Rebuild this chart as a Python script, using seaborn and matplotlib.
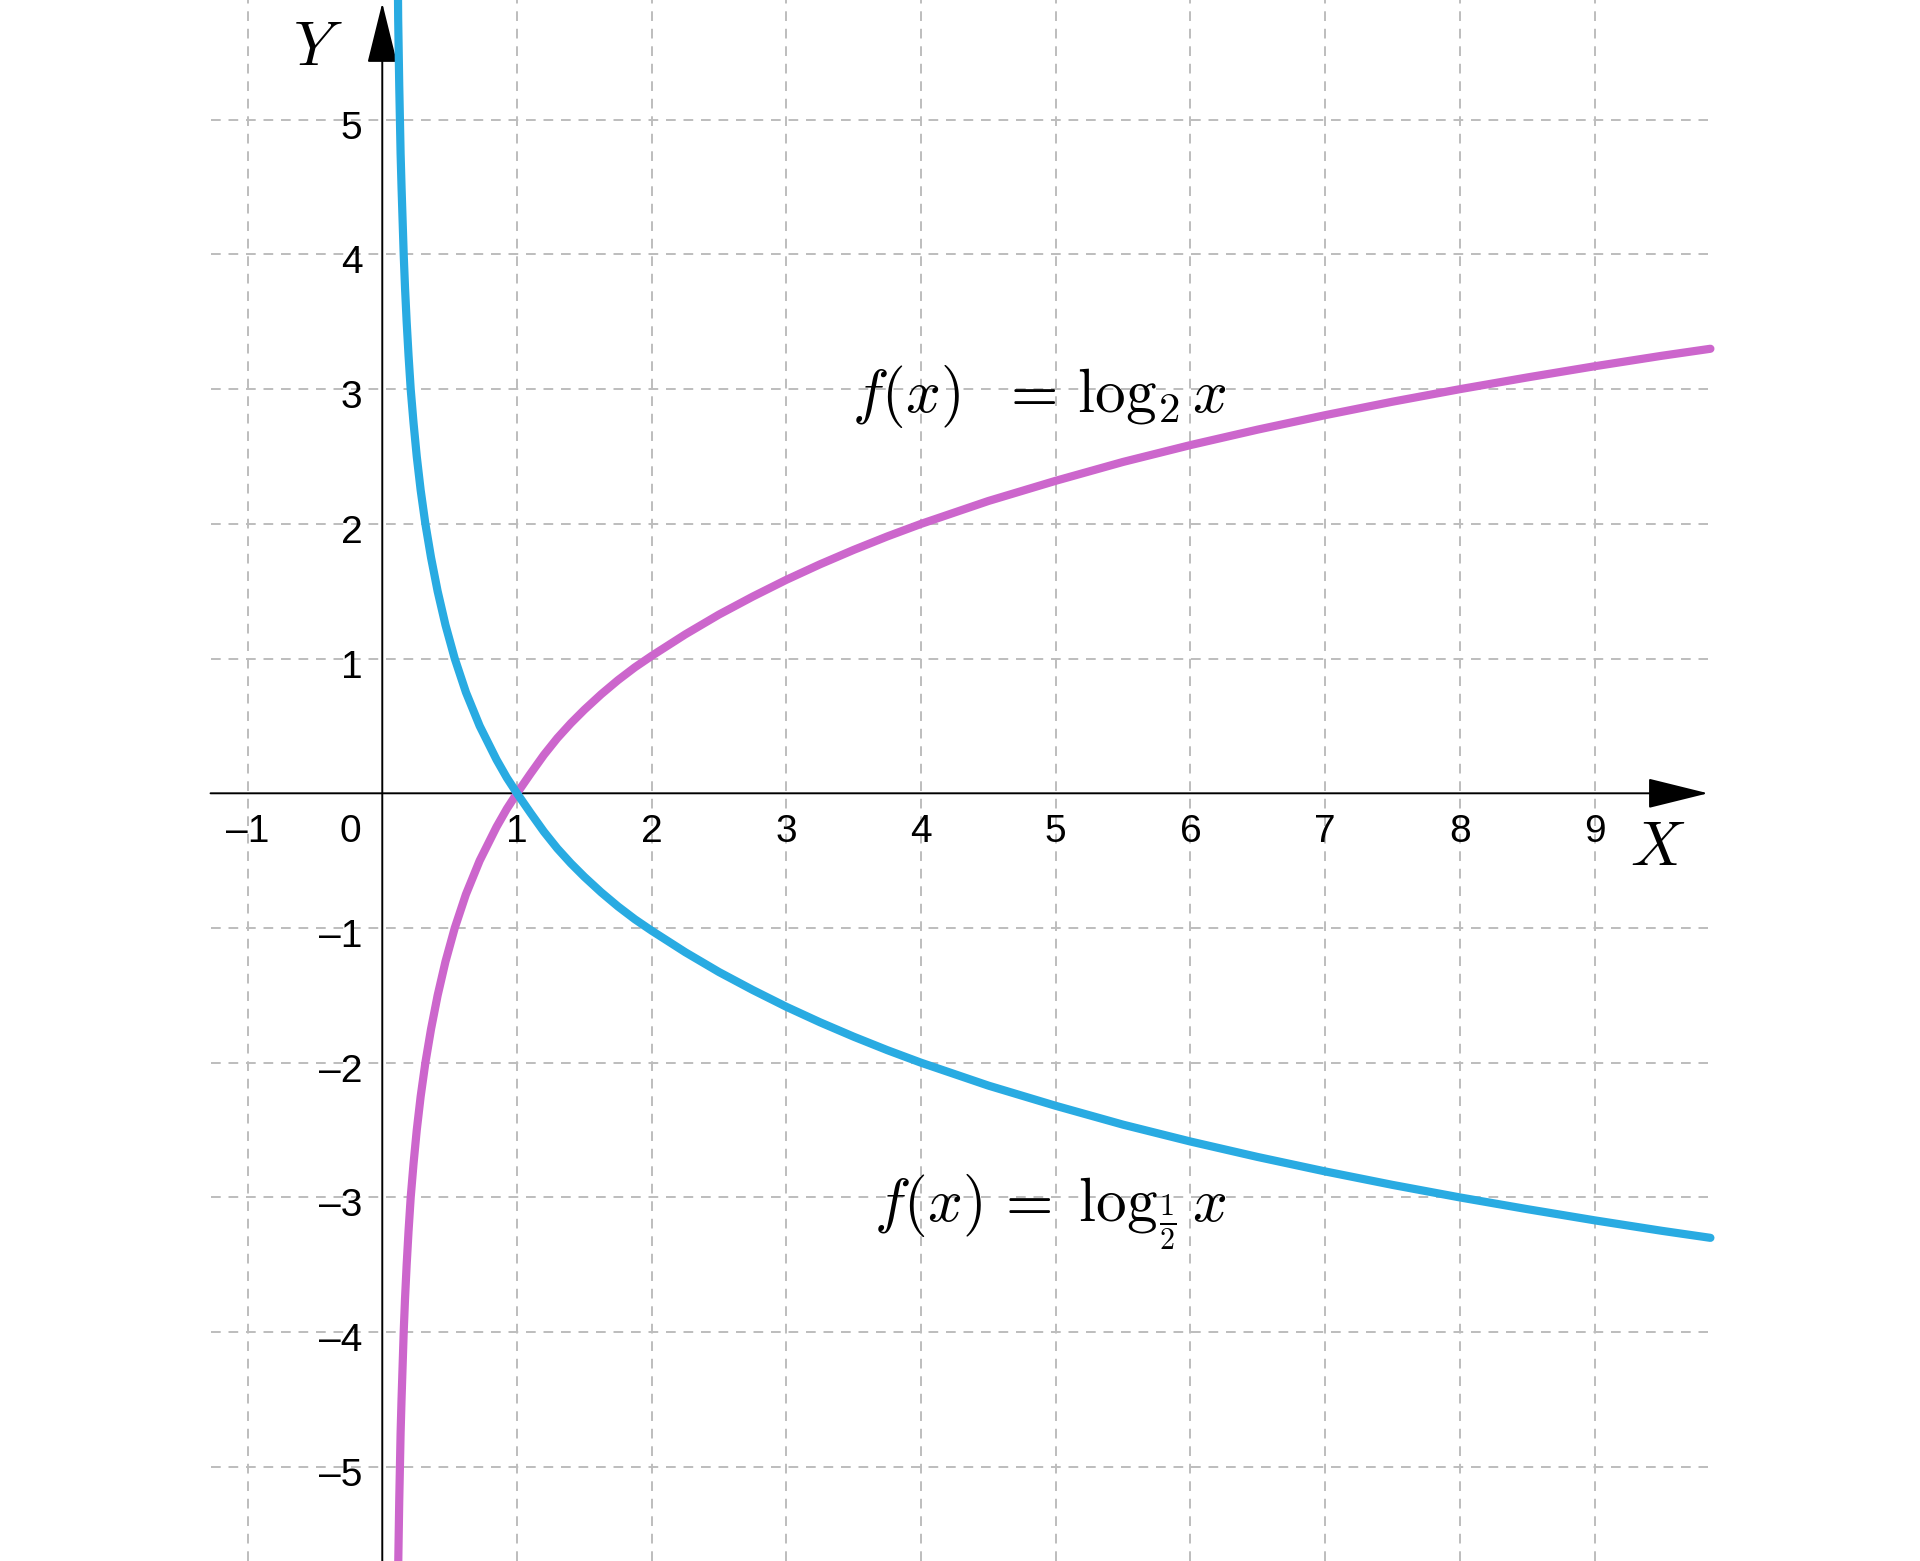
"""
Log curves: f(x) = log_2 x and f(x) = log_1/2 x on a dashed grid.
"""

import matplotlib
matplotlib.use("Agg")
import matplotlib.pyplot as plt
import seaborn as sns
import pandas as pd


# points
X_VALUES = [0.116, 0.118, 0.122, 0.126, 0.131, 0.136, 0.143, 0.151, 0.159, 0.169,
            0.181, 0.195, 0.211, 0.232, 0.256, 0.285, 0.320, 0.362, 0.411, 0.469,
            0.538, 0.621, 0.723, 0.848, 0.925, 1.0, 1.1, 1.2, 1.3, 1.4,
            1.5, 1.625, 1.75, 1.875, 2.0, 2.25, 2.5, 2.75, 3.0, 3.25,
            3.5, 3.75, 4.0, 4.5, 5.0, 5.5, 6.0, 6.5, 7.0, 7.5,
            8.0, 8.5, 9.0, 9.5, 9.86]
LOG2_VALUES = [-6.0, -5.75, -5.5, -5.25, -5.0, -4.75, -4.5, -4.25, -4.0, -3.75,
               -3.5, -3.25, -3.0, -2.75, -2.5, -2.25, -2.0, -1.75, -1.5, -1.25,
               -1.0, -0.75, -0.5, -0.25, -0.115, 0.0, 0.145, 0.285, 0.41, 0.52,
               0.62, 0.735, 0.84, 0.935, 1.02, 1.18, 1.327, 1.46, 1.585, 1.70,
               1.807, 1.907, 2.0, 2.17, 2.32, 2.46, 2.585, 2.70, 2.807, 2.907,
               3.0, 3.087, 3.17, 3.248, 3.30]
LOG_HALF_VALUES = [6.0, 5.75, 5.5, 5.25, 5.0, 4.75, 4.5, 4.25, 4.0, 3.75,
                   3.5, 3.25, 3.0, 2.75, 2.5, 2.25, 2.0, 1.75, 1.5, 1.25,
                   1.0, 0.75, 0.5, 0.25, 0.115, 0.0, -0.145, -0.285, -0.41, -0.52,
                   -0.62, -0.735, -0.84, -0.935, -1.02, -1.18, -1.327, -1.46, -1.585, -1.70,
                   -1.807, -1.907, -2.0, -2.17, -2.32, -2.46, -2.585, -2.70, -2.807, -2.907,
                   -3.0, -3.087, -3.17, -3.248, -3.30]

X_TICKS = [-1, 1, 2, 3, 4, 5, 6, 7, 8, 9]
X_TICK_LABELS = ["\u20131", "1", "2", "3", "4", "5", "6", "7", "8", "9"]
Y_TICKS = [-5, -4, -3, -2, -1, 1, 2, 3, 4, 5]
Y_TICK_LABELS = ["\u20135", "\u20134", "\u20133", "\u20132", "\u20131", "1", "2", "3", "4", "5"]

LABEL_LOG2 = r"$f(x)\ \ =\,\log_2 x$"
LABEL_LOG_HALF = r"$f(x)\,=\;\log_{\frac{1}{2}}x$"

PURPLE = "#CC66CC"
BLUE = "#29ABE2"
GRID = "#BDBDBD"

sns.set_style("white")
plt.rcParams["font.family"] = ["Liberation Sans", "DejaVu Sans"]
plt.rcParams["mathtext.fontset"] = "cm"
plt.rcParams["text.color"] = "black"

XLIM = (-2.838, 11.416)
YLIM = (-5.699, 5.889)

fig = plt.figure(figsize=(19.2, 15.61), dpi=100)
ax = fig.add_axes([0, 0, 1, 1])

# dashed grid
x_lo, x_hi = -1.275, 9.842
for yv in Y_TICKS:
    ax.plot([x_lo, x_hi], [yv, yv], color=GRID, lw=1.4, ls=(0, (5, 4)), zorder=1)
for xv in X_TICKS:
    ax.axvline(xv, color=GRID, lw=1.4, ls=(0, (5, 4)), zorder=1)

# axes with arrow heads
arrow = dict(arrowstyle="-|>,head_length=0.97,head_width=0.24",
             mutation_scale=40, lw=1.4, color="black", shrinkA=0, shrinkB=0)
ax.annotate("", xy=(9.842, 0), xytext=(x_lo, 0), arrowprops=arrow, zorder=2)
ax.annotate("", xy=(0, 5.867), xytext=(0, -5.75), arrowprops=arrow, zorder=2)

# curves
df = pd.DataFrame({"x": X_VALUES, "log2": LOG2_VALUES, "log_half": LOG_HALF_VALUES})
sns.lineplot(data=df, x="x", y="log2", sort=False, estimator=None, color=PURPLE,
             lw=5.9, solid_joinstyle="round", ax=ax, zorder=3)
sns.lineplot(data=df, x="x", y="log_half", sort=False, estimator=None, color=BLUE,
             lw=5.9, solid_joinstyle="round", ax=ax, zorder=4)
ax.set_xlim(*XLIM)
ax.set_ylim(*YLIM)
ax.axis("off")

# tick labels
for xv, lab in zip(X_TICKS, X_TICK_LABELS):
    ax.annotate(lab, (xv, 0), xytext=(0, -35.3), textcoords="offset points",
                ha="center", va="baseline", fontsize=28, color="black")
ax.annotate("0", (0, 0), xytext=(-15, -35.3), textcoords="offset points",
            ha="right", va="baseline", fontsize=28, color="black")
for yv, lab in zip(Y_TICKS, Y_TICK_LABELS):
    ax.annotate(lab, (0, yv), xytext=(-14.4, -13.7), textcoords="offset points",
                ha="right", va="baseline", fontsize=28, color="black")

# axis names and formulas
ax.text(9.466, -0.532, r"$X$", ha="center", va="baseline", fontsize=45)
ax.text(-0.481, 5.407, r"$Y$", ha="center", va="baseline", fontsize=45)
ax.text(3.49, 2.83, LABEL_LOG2, ha="left", va="baseline", fontsize=44)
ax.text(3.65, -3.18, LABEL_LOG_HALF, ha="left", va="baseline", fontsize=44)

plt.savefig("out.png", dpi=100)
